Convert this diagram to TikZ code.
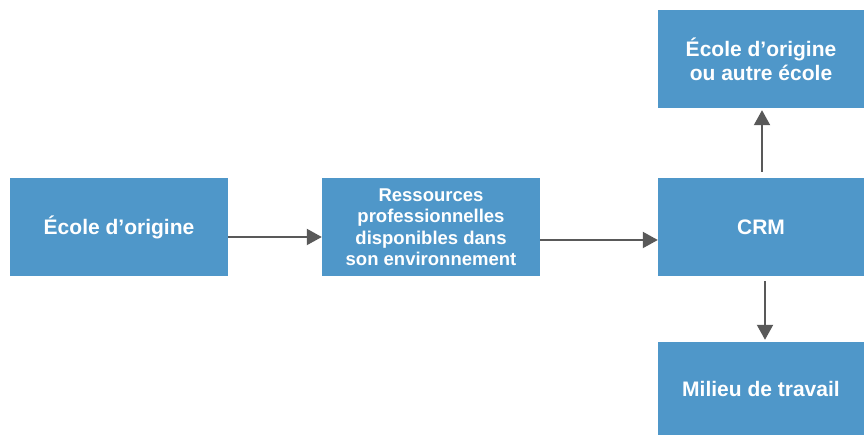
\documentclass[tikz,border=0pt]{standalone}
\usepackage{fontspec}
\setmainfont{Liberation Sans}
\usetikzlibrary{arrows.meta}
\definecolor{boxblue}{HTML}{4F97C9}
\definecolor{arrowgray}{HTML}{595959}
\begin{document}
\begin{tikzpicture}[x=1pt, y=1pt,
        box/.style={fill=boxblue, text=white, align=center, inner sep=0pt,
            font=\bfseries\fontsize{21}{24}\selectfont},
        smallbox/.style={box, font=\bfseries\fontsize{18.5}{21.5}\selectfont},
        arr/.style={-{Triangle[length=15pt, width=16pt]}, line width=2pt, arrowgray}]
        \useasboundingbox (0,0) rectangle (864,435);

        \node[box, minimum width=218, minimum height=98] (ecole) at (119,208) {École d’origine};
        \node[smallbox, minimum width=218, minimum height=98] (ress) at (431,208)
            {Ressources\\professionnelles\\disponibles dans\\son environnement};
        \node[box, minimum width=206, minimum height=98] (crm) at (761,208) {CRM};
        \node[box, minimum width=206, minimum height=98] (autre) at (761,376)
            {École d’origine\\ou autre école};
        \node[box, minimum width=206, minimum height=93] (milieu) at (761,46.5) {Milieu de travail};

        \draw[arr] ([yshift=-10]ecole.east) -- ([yshift=-10]ress.west);
        \draw[arr] ([yshift=-13]ress.east) -- ([yshift=-13]crm.west);
        \draw[arr, shorten <=6pt, shorten >=2pt] ([xshift=1]crm.north) -- ([xshift=1]autre.south);
        \draw[arr, shorten <=5pt, shorten >=2pt] ([xshift=4]crm.south) -- ([xshift=4]milieu.north);
\end{tikzpicture}
\end{document}
